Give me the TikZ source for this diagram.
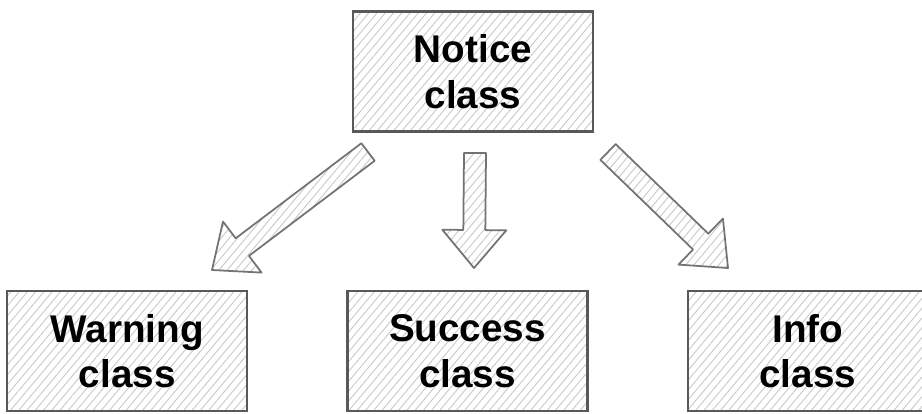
\documentclass[tikz,border=0pt]{standalone}
\usepackage{fontspec}
\setmainfont{Liberation Sans}
\usepackage{tikz}
\usetikzlibrary{calc, positioning, patterns.meta}

% block arrow from #1 to #2
\newcommand{\blockarrow}[2]{%
  \coordinate (#1-head) at ($(#2)!0.76cm!(#1)$);
  \draw[arrow] ($(#1)!0.22cm!90:(#2)$) -- ($(#1-head)!0.22cm!90:(#2)$)
    -- ($(#1-head)!0.64cm!90:(#2)$) -- (#2) -- ($(#1-head)!0.64cm!-90:(#2)$)
    -- ($(#1-head)!0.22cm!-90:(#2)$) -- ($(#1)!0.22cm!-90:(#2)$) -- cycle;}

\begin{document}
\begin{tikzpicture}[
    x=0.02cm, y=-0.02cm,
    node distance=3.16cm and 1.96cm,
    box/.style={rectangle, draw=black!65, line width=1.3pt, align=center,
                minimum width=4.8cm, minimum height=2.4cm,
                font=\fontsize{22}{26}\selectfont\bfseries,
                pattern={Lines[angle=50, distance=3.6pt, line width=0.5pt]},
                pattern color=black!22},
    arrow/.style={draw=black!55, line width=1pt, line join=round,
                  pattern={Lines[angle=50, distance=3.6pt, line width=0.5pt]},
                  pattern color=black!22}
  ]
  \useasboundingbox (0,0) rectangle (922,413);

  \node[box] (notice) at (473,71.5) {Notice\\class};
  \node[box, below=of notice, xshift=-0.11cm] (success) {Success\\class};
  \node[box, left=of success] (warning) {Warning\\class};
  \node[box, right=of success] (info) {Info\\class};

  \coordinate (w-from) at (368,152);
  \coordinate (w-to) at (212,270);
  \coordinate (s-from) at (475,153);
  \coordinate (s-to) at (474,268);
  \coordinate (i-from) at (608,152);
  \coordinate (i-to) at (728,268);

  \blockarrow{w-from}{w-to}
  \blockarrow{s-from}{s-to}
  \blockarrow{i-from}{i-to}

\end{tikzpicture}
\end{document}
